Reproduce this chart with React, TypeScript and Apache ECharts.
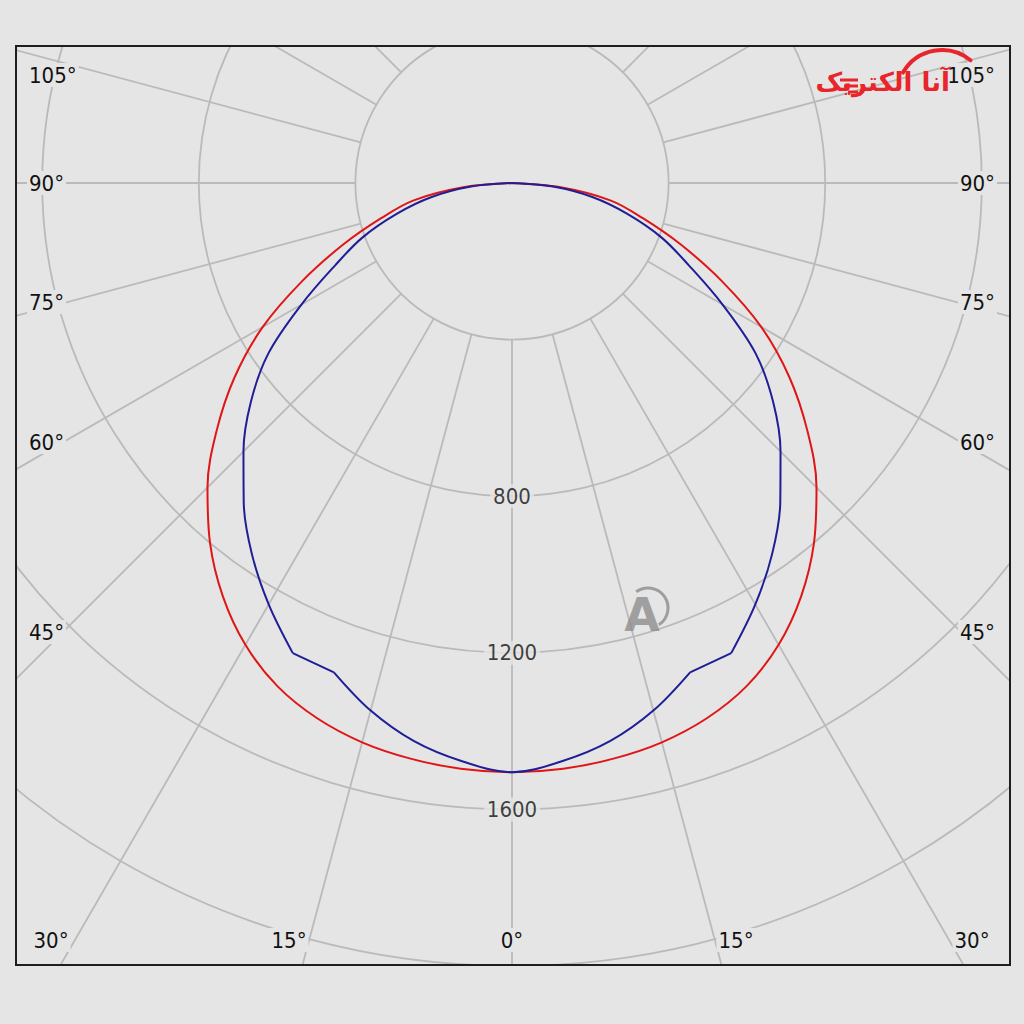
import React, { useEffect, useRef } from 'react';
import * as echarts from 'echarts';

// Gamma angles (degrees from nadir) and luminous intensities
const gammaAngles = [0, 5, 10, 15, 20, 25, 30, 35, 40, 45, 50, 55, 60, 65, 70, 75, 80, 85, 90];
const redIntensity = [1505, 1502, 1493, 1479, 1455, 1418, 1362, 1288, 1200, 1100, 985, 865, 735, 590, 458, 345, 255, 125, 0];
const blueIntensity = [1505, 1482, 1447, 1395, 1330, 1325, 1243, 1158, 1066, 970, 871, 760, 621, 499, 406, 305, 210, 105, 0];
// angles where the blue curve has sharp corners
const blueKinkAngles = [20, 25];

const radiusTickLabels = [800, 1200, 1600];
const sideAngleLabels = ['105°', '90°', '75°', '60°', '45°'];
const bottomAngleLabels = ['30°', '15°', '0°', '15°', '30°'];
const logoText = 'آنا الکتریک';

// layout
const BG = '#e5e5e5';
const GRID = '#bababa';
const CX = 512;
const CY = 183;
const PX_PER_CD = 783 / 2000;
const FONT = "'DejaVu Sans Condensed', 'DejaVu Sans', sans-serif";
const FRAME = { x: 16, y: 46, w: 994, h: 919 };
const sideLabelY = [75, 183, 302, 442, 632];
const bottomLabelX = [51, 289, 512, 736, 972];
const bottomLabelY = 940;

function fullCurve(vals: number[]) {
  const out: number[][] = [];
  for (let i = gammaAngles.length - 1; i >= 0; i--) out.push([vals[i], -gammaAngles[i]]);
  for (let i = 1; i < gammaAngles.length; i++) out.push([vals[i], gammaAngles[i]]);
  return out;
}

// split a full curve into pieces at the kink angles: smooth between kinks, straight across kinks
function splitAtKinks(pts: number[][], kinks: number[]) {
  const cuts = new Set<number>();
  kinks.forEach((k) => { cuts.add(k); cuts.add(-k); });
  const idx: number[] = [];
  pts.forEach((p, i) => { if (cuts.has(p[1])) idx.push(i); });
  const pieces: { data: number[][]; smooth: boolean }[] = [];
  let start = 0;
  idx.forEach((i) => {
    if (i > start) {
      const bothKinks = cuts.has(pts[start][1]) && i - start === 1;
      pieces.push({ data: pts.slice(start, i + 1), smooth: !bothKinks });
    }
    start = i;
  });
  pieces.push({ data: pts.slice(start), smooth: true });
  return pieces;
}

function labelText(text: string, x: number, y: number, align: string) {
  return {
    type: 'text',
    x,
    y,
    z: 50,
    silent: true,
    style: {
      text,
      fill: '#111',
      fontSize: 22,
      fontFamily: FONT,
      align,
      verticalAlign: 'middle',
      backgroundColor: BG,
      padding: [1, 2],
    },
  };
}

export default function App() {
  const ref = useRef<HTMLDivElement>(null);

  useEffect(() => {
    if (!ref.current) return;
    const chart = echarts.init(ref.current, undefined, { renderer: 'svg' });

    const graphics: any[] = [];
    // masks outside frame
    graphics.push({ type: 'rect', z: 100, silent: true, shape: { x: 0, y: 0, width: 1024, height: FRAME.y }, style: { fill: BG } });
    graphics.push({ type: 'rect', z: 100, silent: true, shape: { x: 0, y: FRAME.y + FRAME.h, width: 1024, height: 1024 - FRAME.y - FRAME.h }, style: { fill: BG } });
    graphics.push({ type: 'rect', z: 100, silent: true, shape: { x: 0, y: 0, width: FRAME.x, height: 1024 }, style: { fill: BG } });
    graphics.push({ type: 'rect', z: 100, silent: true, shape: { x: FRAME.x + FRAME.w, y: 0, width: 1024 - FRAME.x - FRAME.w, height: 1024 }, style: { fill: BG } });
    graphics.push({ type: 'rect', z: 101, silent: true, shape: { x: FRAME.x, y: FRAME.y, width: FRAME.w, height: FRAME.h }, style: { fill: 'none', stroke: '#1e1e1e', lineWidth: 2 } });

    sideAngleLabels.forEach((t, i) => {
      graphics.push(labelText(t, 27, sideLabelY[i], 'left'));
      graphics.push(labelText(t, 997, sideLabelY[i], 'right'));
    });
    bottomAngleLabels.forEach((t, i) => {
      graphics.push(labelText(t, bottomLabelX[i], bottomLabelY, 'center'));
    });

    // logo (top right)
    graphics.push({
      type: 'arc', z: 110, silent: true,
      shape: { cx: 942, cy: 95, r: 45, startAngle: -2.62, endAngle: -0.885, clockwise: true },
      style: { stroke: '#e8252b', lineWidth: 4, fill: 'none', lineCap: 'round' },
    });
    graphics.push({
      type: 'text', z: 111, silent: true, x: 950, y: 82,
      style: { text: logoText, fill: '#e8252b', fontSize: 26, fontWeight: 'bold', fontFamily: "'DejaVu Sans'", align: 'right', verticalAlign: 'middle' },
    });
    [[840, 80], [844, 86], [848, 92]].forEach(([x, y]) => {
      graphics.push({ type: 'line', z: 110, silent: true, shape: { x1: x, y1: y, x2: 858, y2: y }, style: { stroke: '#e8252b', lineWidth: 3 } });
    });

    // watermark
    graphics.push({
      type: 'text', z: 20, silent: true, x: 642, y: 615,
      style: { text: 'A', fill: 'rgba(140,140,140,0.8)', fontSize: 46, fontWeight: 'bold', fontFamily: "'DejaVu Sans'", align: 'center', verticalAlign: 'middle' },
    });
    graphics.push({
      type: 'arc', z: 20, silent: true,
      shape: { cx: 648, cy: 608, r: 20, startAngle: -2.2, endAngle: 1.0, clockwise: true },
      style: { stroke: 'rgba(140,140,140,0.8)', lineWidth: 3, fill: 'none' },
    });

    const bluePieces = splitAtKinks(fullCurve(blueIntensity), blueKinkAngles);

    const option: any = {
      animation: false,
      backgroundColor: BG,
      polar: [
        // grid: circles every 400 cd, radial lines every 15°, starting at the 400 cd circle and running to the frame
        { center: [CX, CY], radius: [400 * PX_PER_CD, 2800 * PX_PER_CD] },
        // data
        { center: [CX, CY], radius: [0, 2000 * PX_PER_CD] },
      ],
      radiusAxis: [
        {
          polarIndex: 0, type: 'value', min: 400, max: 2800, interval: 400,
          axisLine: { show: false }, axisTick: { show: false }, axisLabel: { show: false },
          splitLine: { show: true, lineStyle: { color: GRID, width: 1.8 } },
        },
        {
          polarIndex: 1, type: 'value', min: 0, max: 2000,
          axisLine: { show: false }, axisTick: { show: false }, axisLabel: { show: false },
          splitLine: { show: false },
        },
      ],
      angleAxis: [
        {
          polarIndex: 0, type: 'value', min: -180, max: 180, interval: 15, startAngle: 90, clockwise: false,
          axisLine: { show: false }, axisTick: { show: false }, axisLabel: { show: false },
          splitLine: { show: true, lineStyle: { color: GRID, width: 1.8 } },
        },
        {
          polarIndex: 1, type: 'value', min: -180, max: 180, interval: 15, startAngle: 90, clockwise: false,
          axisLine: { show: false }, axisTick: { show: false }, axisLabel: { show: false },
          splitLine: { show: false },
        },
      ],
      series: [
        {
          name: 'C0-C180', type: 'line', coordinateSystem: 'polar', polarIndex: 1, data: fullCurve(redIntensity),
          showSymbol: false, symbol: 'none', z: 3, smooth: 0.35,
          lineStyle: { color: '#e01515', width: 2 },
        },
        ...bluePieces.map((p) => ({
          name: 'C90-C270', type: 'line', coordinateSystem: 'polar', polarIndex: 1, data: p.data,
          showSymbol: false, symbol: 'none', z: 4, smooth: p.smooth ? 0.35 : false,
          lineStyle: { color: '#1e1e96', width: 2 },
        })),
        {
          type: 'scatter', coordinateSystem: 'polar', polarIndex: 1, silent: true, z: 5,
          data: radiusTickLabels.map((v) => [v, 0]),
          symbolSize: 1,
          itemStyle: { color: 'rgba(0,0,0,0)' },
          label: {
            show: true, position: 'inside',
            formatter: (p: any) => String(p.value[0]),
            color: '#111', fontSize: 22, fontFamily: FONT,
            backgroundColor: BG, padding: [1, 3],
          },
        },
      ],
      graphic: { elements: graphics },
    };

    chart.setOption(option);
    return () => chart.dispose();
  }, []);

  return <div ref={ref} style={{ position: 'absolute', left: 0, top: 0, width: 1024, height: 1024 }} />;
}
